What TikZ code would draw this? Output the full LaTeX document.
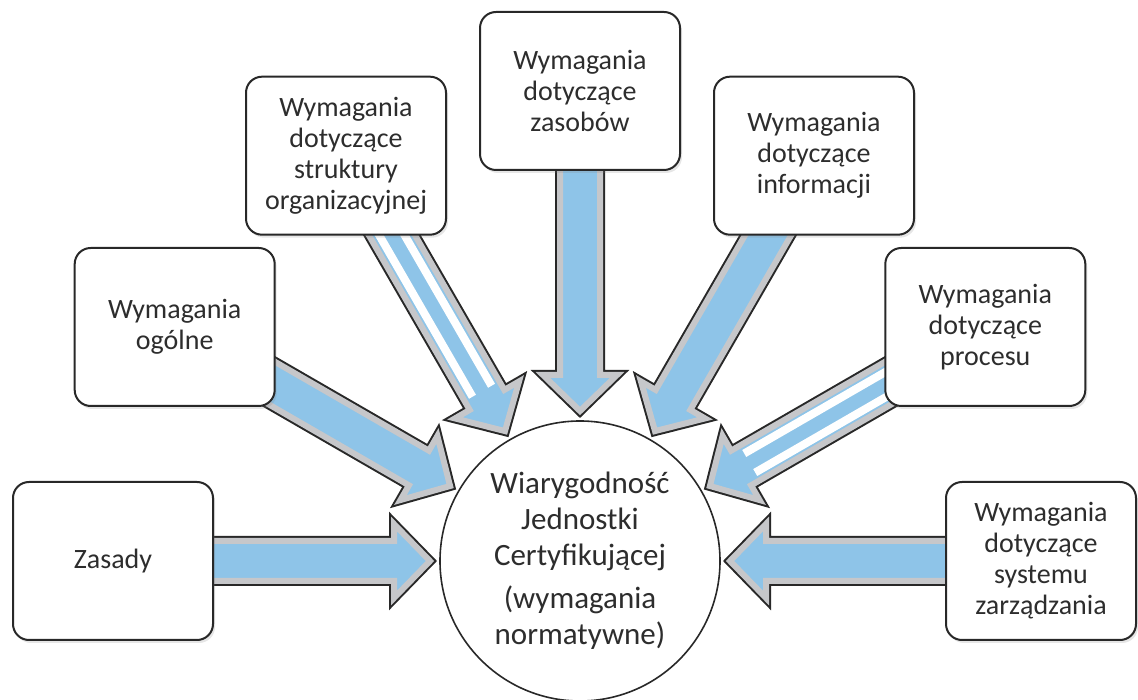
\documentclass[tikz,border=0pt]{standalone}
\usepackage{fontspec}
\setmainfont{Carlito}
\usepackage{tikz}
\usetikzlibrary{calc, backgrounds, shadows}
\definecolor{arrowblue}{RGB}{142,196,232}
\definecolor{arrowgray}{RGB}{198,199,202}
\definecolor{edgegray}{RGB}{40,40,40}
\definecolor{textgray}{RGB}{45,45,45}
\tikzset{
    block/.style={
        draw = edgegray, line width = 2pt, fill = white,
        rounded corners = 16pt,
        minimum width = 200pt, minimum height = 158pt,
        align = center, text = textgray,
        font = \fontsize{28}{31}\selectfont,
        drop shadow = {opacity = 0.2, shadow xshift = 2pt, shadow yshift = -3pt}
    },
    core/.style={
        draw = edgegray, line width = 1.6pt, fill = white,
        circle, inner sep = 0pt, minimum size = 280pt
    },
    coretext/.style={
        align = center, text = textgray,
        font = \fontsize{31}{36}\selectfont
    },
    arrowbody/.style={
        fill = arrowblue, draw = arrowgray, line width = 6pt,
        preaction = {draw = edgegray, line width = 10pt}
    },
    glint/.style = {draw = white, line width = 8pt}
}
\newcommand{\shaftw}{20pt}
\newcommand{\headw}{37pt}
\newcommand{\headl}{36pt}
% block arrow from a box towards the circle
\newcommand{\fatarrow}[1]{%
    \coordinate (#1-h) at ($(core.center)!150pt!(#1.center)$);
    \coordinate (#1-b) at ($(#1-h)!\headl!(#1.center)$);
    \path[arrowbody] ($(#1.center)!\shaftw!90:(#1-h)$) -- ($(#1-b)!\shaftw!90:(#1-h)$)
        -- ($(#1-b)!\headw!90:(#1-h)$) -- (#1-h) -- ($(#1-b)!\headw!-90:(#1-h)$)
        -- ($(#1-b)!\shaftw!-90:(#1-h)$) -- ($(#1.center)!\shaftw!-90:(#1-h)$) -- cycle;
}
% white highlight stripes on a shaft
\newcommand{\glints}[1]{%
    \coordinate (#1-g) at ($(#1-h)!46pt!(#1.center)$);
    \draw[glint] ($(#1.center)!11pt!90:(#1-h)$) -- ($(#1-g)!11pt!90:(#1-h)$);
    \draw[glint] ($(#1.center)!11pt!-90:(#1-h)$) -- ($(#1-g)!11pt!-90:(#1-h)$);
}

\begin{document}
\begin{tikzpicture}[x=1pt, y=1pt]
    \useasboundingbox (0,0) rectangle (1138,699);

    % Centre
    \node[core, label={[coretext]center:{Wiarygodność\\Jednostki\\Certyfikującej\\[7pt](wymagania\\normatywne)}}] (core) at (580,138) {};

    % Requirements
    \node[block] (zasady) at ($(core)+(180:467)$) {Zasady};
    \node[block] (ogolne) at ($(core)+(150:468)$) {Wymagania\\ogólne};
    \node[block] (struktura) at ($(core)+(120:468)$) {Wymagania\\dotyczące\\struktury\\organizacyjnej};
    \node[block] (zasoby) at ($(core)+(90:470)$) {Wymagania\\dotyczące\\zasobów};
    \node[block] (informacja) at ($(core)+(60:468)$) {Wymagania\\dotyczące\\informacji};
    \node[block] (proces) at ($(core)+(30:468)$) {Wymagania\\dotyczące\\procesu};
    \node[block, minimum width = 190pt] (system) at ($(core)+(0:461)$) {Wymagania\\dotyczące\\systemu\\zarządzania};

    % Arrows
    \begin{scope}[on background layer]
        \foreach \src in {zasady, ogolne, struktura, zasoby, informacja, proces, system}
            {\fatarrow{\src}}
        \glints{struktura}
        \glints{proces}
    \end{scope}

\end{tikzpicture}
\end{document}
